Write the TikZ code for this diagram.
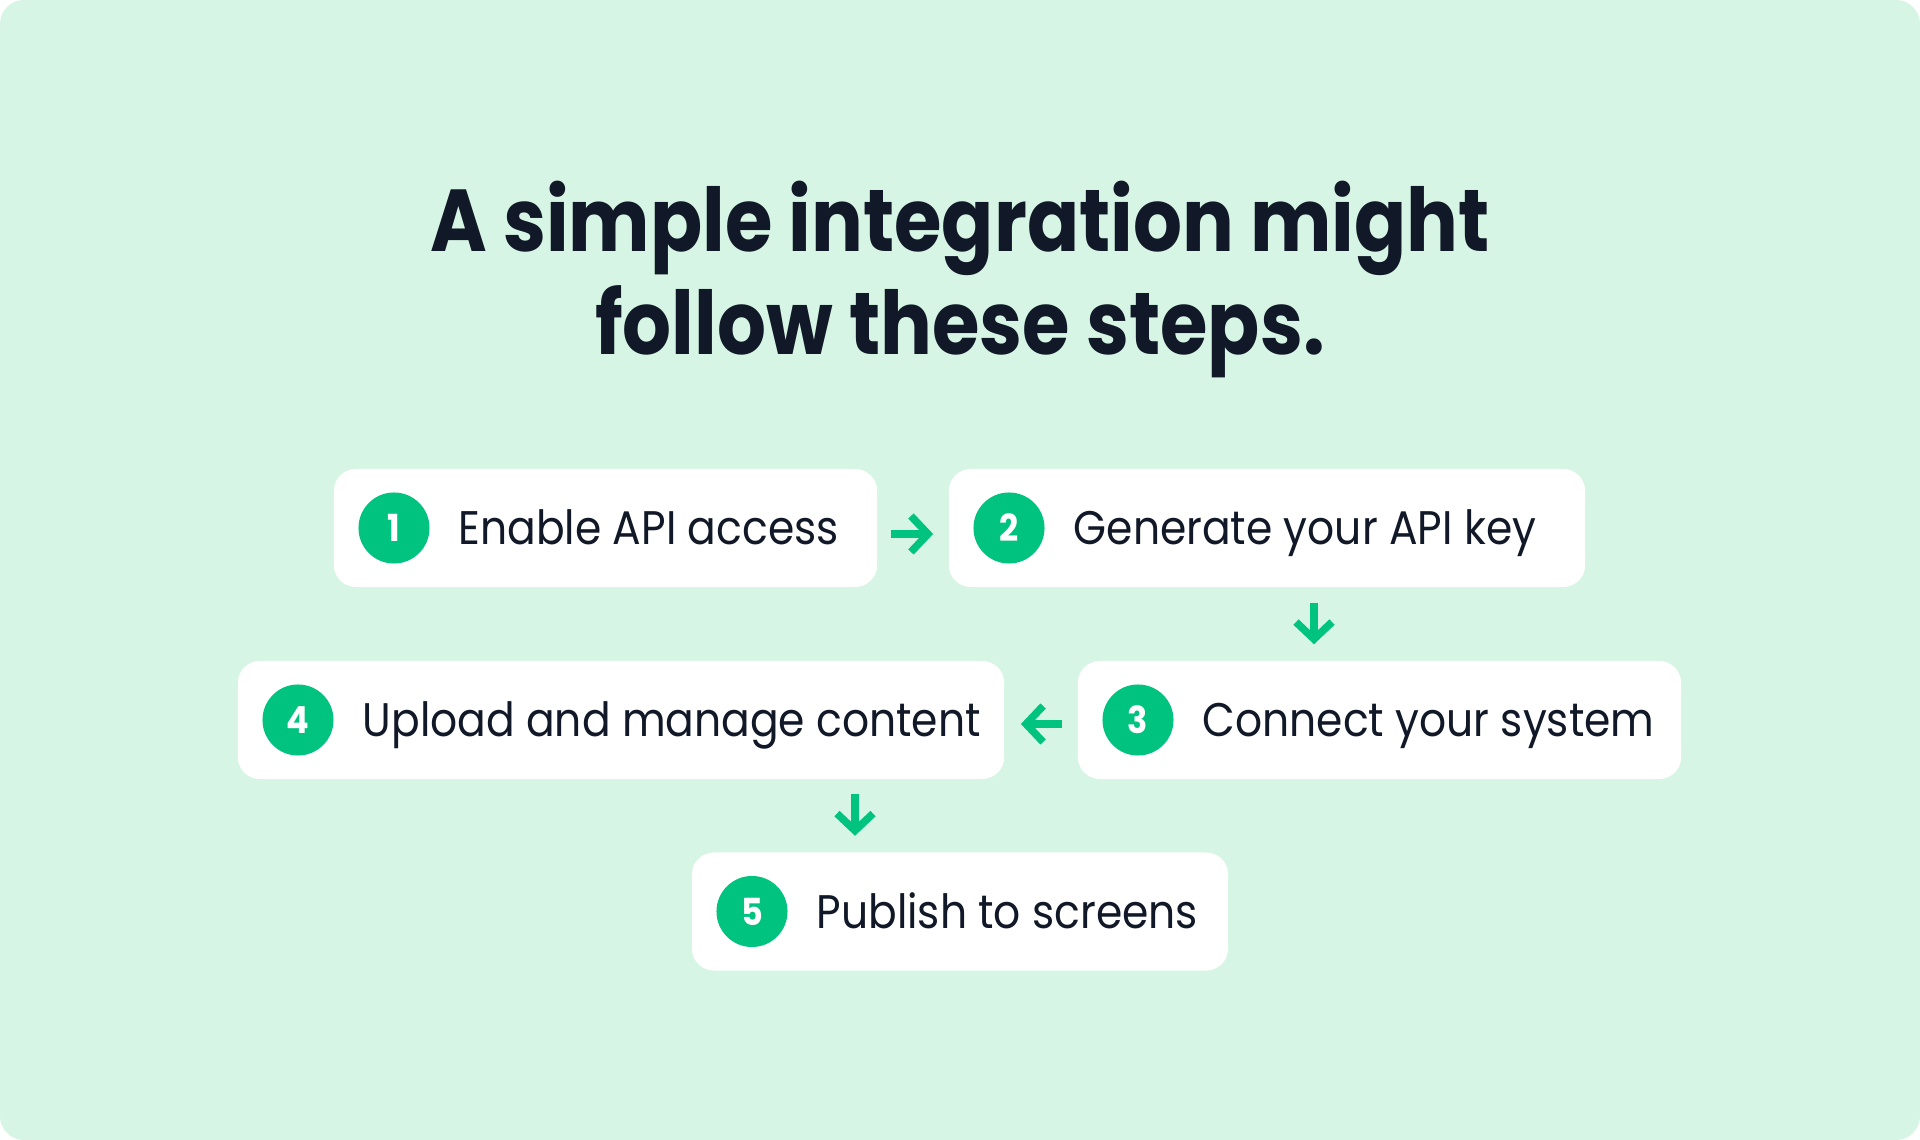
\documentclass[tikz,border=0pt]{standalone}
\usepackage{fontspec}
\setmainfont{Poppins}[FakeStretch=0.9]
\newfontfamily\headfont{Poppins}[FakeStretch=0.875]
\usetikzlibrary{arrows.meta}

\definecolor{mint}{RGB}{214,245,228}
\definecolor{brand}{RGB}{0,195,127}
\definecolor{ink}{RGB}{17,24,39}

\begin{document}
\begin{tikzpicture}[x=0.01cm, y=-0.01cm,
	card/.style={fill=white, rounded corners=0.22cm, minimum height=1.18cm, inner sep=0pt},
	badge/.style={circle, fill=brand, minimum size=0.71cm, inner sep=0pt, text=white, font=\fontsize{10.6}{11}\selectfont\bfseries},
	label/.style={anchor=base west, inner sep=0pt, text=ink, font=\fontsize{13.4}{16}\selectfont},
	headline/.style={anchor=base, inner sep=0pt, text=ink, font=\headfont\fontsize{25}{30}\selectfont\bfseries},
	flow/.style={draw=brand, line width=0.075cm, -{Straight Barb[length=0.17cm, width=0.36cm]}}]
	\fill[white] (0,0) rectangle (1920,1140);
	\fill[mint, rounded corners=0.24cm] (0,0) rectangle (1920,1140);
	\useasboundingbox (0,0) rectangle (1920,1140);

	\node[headline] (head1) at (960,252) {A simple integration might};
	\node[headline] (head2) at (960,355) {follow these steps.};

	\node[card, minimum width=5.43cm] (b1) at (605.5,528) {};
	\node[badge] (n1) at (394,528) {1};
	\node[label] (t1) at (458,545) {Enable API access};

	\node[card, minimum width=6.36cm] (b2) at (1267,528) {};
	\node[badge] (n2) at (1009,528) {2};
	\node[label] (t2) at (1073,545) {Generate your API key};

	\node[card, minimum width=6.03cm] (b3) at (1379.5,720) {};
	\node[badge] (n3) at (1138,720) {3};
	\node[label] (t3) at (1202,737) {Connect your system};

	\node[card, minimum width=7.66cm] (b4) at (621,720) {};
	\node[badge] (n4) at (298,720) {4};
	\node[label] (t4) at (362,737) {Upload and manage content};

	\node[card, minimum width=5.36cm] (b5) at (960,911.5) {};
	\node[badge] (n5) at (752,911.5) {5};
	\node[label] (t5) at (816,928.5) {Publish to screens};

	\coordinate (c23) at (1314,0);
	\coordinate (c45) at (855,0);
	\draw[flow, shorten <=0.13cm, shorten >=0.15cm] ([yshift=-0.06cm]b1.east) -- ([yshift=-0.06cm]b2.west);
	\draw[flow, shorten <=0.15cm, shorten >=0.16cm] (b2.south -| c23) -- (b3.north -| c23);
	\draw[flow, shorten <=0.15cm, shorten >=0.16cm] ([yshift=-0.04cm]b3.west) -- ([yshift=-0.04cm]b4.east);
	\draw[flow, shorten <=0.14cm, shorten >=0.16cm] (b4.south -| c45) -- (b5.north -| c45);
\end{tikzpicture}
\end{document}
